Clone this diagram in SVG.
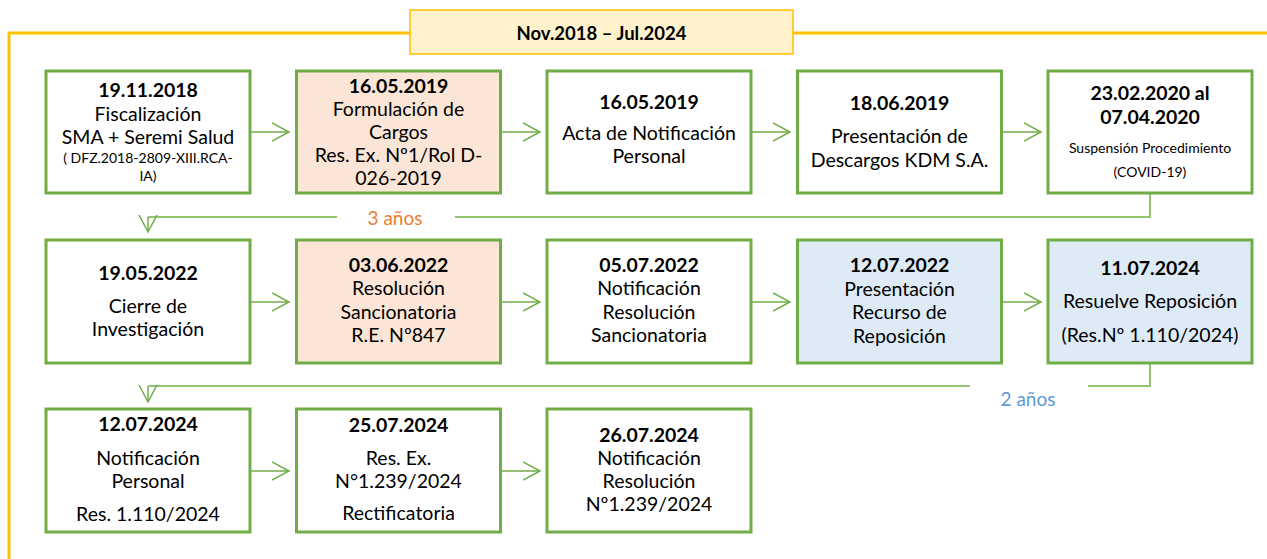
<svg xmlns="http://www.w3.org/2000/svg" width="1267" height="559" viewBox="0 0 1267 559">
<defs>
<style>
.box{stroke:#70AD47;stroke-width:3;fill:#FFFFFF}
.peach{fill:#FBE5D6}
.blue{fill:#DEEBF7}
text{font-family:Lato,"Liberation Sans",sans-serif;fill:#000;text-anchor:middle}
.d{font-size:19.5px;font-weight:bold}
.t{font-size:19.5px}
.s{font-size:14px}
.arr{stroke:#70AD47;stroke-width:1.5;fill:none}
.loop{stroke:#93C672;stroke-width:2;fill:none}
</style>
<marker id="ah" markerUnits="userSpaceOnUse" markerWidth="20" markerHeight="22" refX="17" refY="10" orient="auto" viewBox="0 0 20 22">
<path d="M0,1 L17,10 L0,19" fill="none" stroke="#70AD47" stroke-width="1.5"/>
</marker>
</defs>
<rect width="1267" height="559" fill="#FFFFFF"/>
<g id="frame">
<path d="M9,559 L9,33 L410,33 M793,33 L1267,33" fill="none" stroke="#FFC000" stroke-width="3"/>
</g>
<g id="title">
<rect x="410" y="10" width="383" height="44" fill="#FFF2CC" stroke="#FFC000" stroke-width="1.5"/>
<text x="601.5" y="40" style="font-size:18.5px;font-weight:bold">Nov.2018 – Jul.2024</text>
</g>
<g id="connectors">
<path class="arr" d="M250,132 L289,132" marker-end="url(#ah)"/>
<path class="arr" d="M501,132 L540,132" marker-end="url(#ah)"/>
<path class="arr" d="M751,132 L790,132" marker-end="url(#ah)"/>
<path class="arr" d="M1002,132 L1041,132" marker-end="url(#ah)"/>
<path class="arr" d="M250,302 L289,302" marker-end="url(#ah)"/>
<path class="arr" d="M501,302 L540,302" marker-end="url(#ah)"/>
<path class="arr" d="M751,302 L790,302" marker-end="url(#ah)"/>
<path class="arr" d="M1002,302 L1041,302" marker-end="url(#ah)"/>
<path class="arr" d="M250,471 L289,471" marker-end="url(#ah)"/>
<path class="arr" d="M501,471 L540,471" marker-end="url(#ah)"/>
<path class="loop" d="M1150,194 L1150,217 L455,217 M337,217 L148,217"/>
<path class="arr" d="M148,217 L148,232" marker-end="url(#ah)"/>
<path class="loop" d="M1150,364 L1150,386 L1088,386 M970,386 L148,386"/>
<path class="arr" d="M148,386 L148,402" marker-end="url(#ah)"/>
<text x="395" y="225" style="font-size:19px;fill:#ED7D31">3 años</text>
<text x="1028" y="406" style="font-size:19px;fill:#5B9BD5">2 años</text>
</g>
<g id="n1">
<rect class="box" x="46" y="71" width="204" height="122"/>
<text class="d" x="148" y="97">19.11.2018</text>
<text class="t" x="148" y="121">Fiscalización</text>
<text class="t" x="148" y="144">SMA + Seremi Salud</text>
<text class="s" x="148" y="163">( DFZ.2018-2809-XIII.RCA-</text>
<text class="s" x="148" y="181">IA)</text>
</g>
<g id="n2">
<rect class="box peach" x="296.5" y="71" width="204" height="122"/>
<text class="d" x="398.5" y="93">16.05.2019</text>
<text class="t" x="398.5" y="116">Formulación de</text>
<text class="t" x="398.5" y="139">Cargos</text>
<text class="t" x="398.5" y="162">Res. Ex. Nº1/Rol D-</text>
<text class="t" x="398.5" y="185">026-2019</text>
</g>
<g id="n3">
<rect class="box" x="547" y="71" width="204" height="122"/>
<text class="d" x="649" y="109">16.05.2019</text>
<text class="t" x="649" y="140">Acta de Notificación</text>
<text class="t" x="649" y="163">Personal</text>
</g>
<g id="n4">
<rect class="box" x="797.5" y="71" width="204" height="122"/>
<text class="d" x="899.5" y="110">18.06.2019</text>
<text class="t" x="899.5" y="143">Presentación de</text>
<text class="t" x="899.5" y="167">Descargos KDM S.A.</text>
</g>
<g id="n5">
<rect class="box" x="1048" y="71" width="204" height="122"/>
<text class="d" x="1150" y="100">23.02.2020 al</text>
<text class="d" x="1150" y="124">07.04.2020</text>
<text class="s" x="1150" y="153">Suspensión Procedimiento</text>
<text class="s" x="1150" y="177">(COVID-19)</text>
</g>
<g id="n6">
<rect class="box" x="46" y="240" width="204" height="123"/>
<text class="d" x="148" y="280">19.05.2022</text>
<text class="t" x="148" y="313">Cierre de</text>
<text class="t" x="148" y="336">Investigación</text>
</g>
<g id="n7">
<rect class="box peach" x="296.5" y="240" width="204" height="123"/>
<text class="d" x="398.5" y="272">03.06.2022</text>
<text class="t" x="398.5" y="295">Resolución</text>
<text class="t" x="398.5" y="319">Sancionatoria</text>
<text class="t" x="398.5" y="342">R.E. Nº847</text>
</g>
<g id="n8">
<rect class="box" x="547" y="240" width="204" height="123"/>
<text class="d" x="649" y="272">05.07.2022</text>
<text class="t" x="649" y="295">Notificación</text>
<text class="t" x="649" y="319">Resolución</text>
<text class="t" x="649" y="342">Sancionatoria</text>
</g>
<g id="n9">
<rect class="box blue" x="797.5" y="240" width="204" height="123"/>
<text class="d" x="899.5" y="272">12.07.2022</text>
<text class="t" x="899.5" y="296">Presentación</text>
<text class="t" x="899.5" y="319">Recurso de</text>
<text class="t" x="899.5" y="343">Reposición</text>
</g>
<g id="n10">
<rect class="box blue" x="1048" y="240" width="204" height="123"/>
<text class="d" x="1150" y="275">11.07.2024</text>
<text class="t" x="1150" y="308">Resuelve Reposición</text>
<text class="t" x="1150" y="342">(Res.Nº 1.110/2024)</text>
</g>
<g id="n11">
<rect class="box" x="46" y="409" width="204" height="123"/>
<text class="d" x="148" y="431">12.07.2024</text>
<text class="t" x="148" y="465">Notificación</text>
<text class="t" x="148" y="488">Personal</text>
<text class="t" x="148" y="521">Res. 1.110/2024</text>
</g>
<g id="n12">
<rect class="box" x="296.5" y="409" width="204" height="123"/>
<text class="d" x="398.5" y="432">25.07.2024</text>
<text class="t" x="398.5" y="465">Res. Ex.</text>
<text class="t" x="398.5" y="488">N°1.239/2024</text>
<text class="t" x="398.5" y="520">Rectificatoria</text>
</g>
<g id="n13">
<rect class="box" x="547" y="409" width="204" height="123"/>
<text class="d" x="649" y="442">26.07.2024</text>
<text class="t" x="649" y="465">Notificación</text>
<text class="t" x="649" y="488">Resolución</text>
<text class="t" x="649" y="511">Nº1.239/2024</text>
</g>
</svg>
